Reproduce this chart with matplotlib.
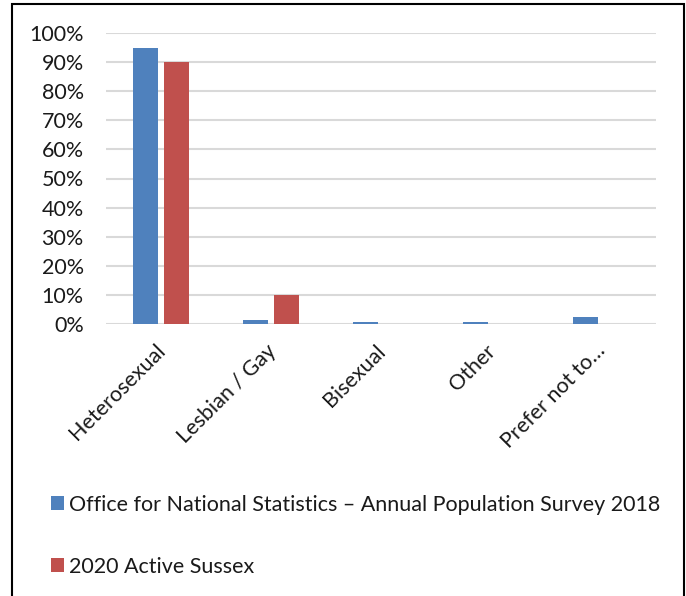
import numpy as np
import matplotlib.pyplot as plt
from matplotlib.patches import Rectangle
from matplotlib.ticker import PercentFormatter

# Sexual orientation: national survey vs Active Sussex respondents (percent)
categories = ['Heterosexual', 'Lesbian / Gay', 'Bisexual', 'Other', 'Prefer not to…']
ons_2018 = [94.7, 1.3, 0.8, 0.6, 2.4]
active_sussex_2020 = [90.0, 10.0, 0.0, 0.0, 0.0]
series_names = ['Office for National Statistics – Annual Population Survey 2018',
                '2020 Active Sussex']

blue = '#4F81BD'
red = '#C0504D'

plt.rcParams['font.family'] = ['Lato', 'DejaVu Sans']

W, H = 686, 596
fig = plt.figure(figsize=(W / 100, H / 100), dpi=100)
ax = fig.add_axes([106 / W, 1 - 324 / H, 550 / W, 291 / H])

x = np.arange(len(categories))
bw = 0.227
off = 0.145
b1 = ax.bar(x - off, ons_2018, bw, color=blue, label=series_names[0], zorder=3)
b2 = ax.bar(x + off, active_sussex_2020, bw, color=red, label=series_names[1], zorder=3)

ax.set_xlim(-0.5, len(categories) - 0.5)
ax.set_ylim(0, 100)
ax.set_yticks(np.arange(0, 101, 10))
ax.yaxis.set_major_formatter(PercentFormatter(decimals=0))
ax.grid(axis='y', color='#D9D9D9', linewidth=1.5, zorder=0)
for s in ax.spines.values():
    s.set_visible(False)
ax.tick_params(axis='y', length=0, pad=16, labelsize=15.5, labelcolor='#1a1a1a')
ax.tick_params(axis='x', length=0, pad=12)
ax.set_xticks(x - 0.05)
ax.set_xticklabels(categories, rotation=45, ha='right', rotation_mode='anchor',
                   fontsize=15.5, color='#1a1a1a')

# legend entries stacked below the plot
for i, (h, name) in enumerate(zip([b1, b2], series_names)):
    fig.legend([h], [name], loc='center left',
               bbox_to_anchor=(42 / W, 1 - (505 + 62 * i) / H),
               frameon=False, fontsize=15.5, handlelength=0.62, handleheight=0.62,
               handletextpad=0.25, borderaxespad=0, labelcolor='#1a1a1a')

# outer chart frame (open at the bottom edge)
fig.patches.append(Rectangle((12 / W, -0.05), 672 / W, 1.05 - 4 / H,
                             transform=fig.transFigure, fill=False,
                             edgecolor='black', linewidth=1.5))

fig.savefig('out.png', dpi=100)
